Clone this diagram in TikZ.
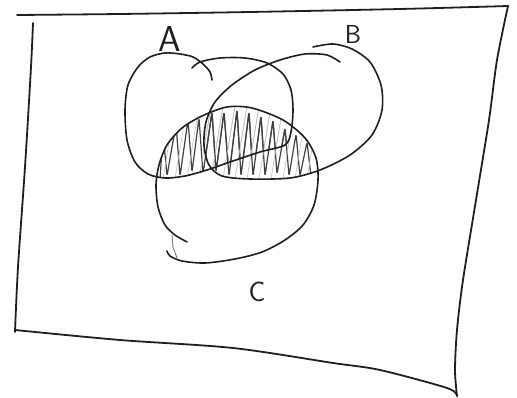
\documentclass[tikz,border=0pt]{standalone}
\usepackage{fontspec}
\begin{document}
\begin{tikzpicture}[x=1pt,y=-1pt,
  pen/.style={line width=1.6pt, draw=black!88, line cap=round, line join=round},
  frame/.style={line width=1.8pt, draw=black!88, line cap=round},
  zig/.style={line width=1.2pt, draw=black!75, line join=round, line cap=round},
  lightline/.style={line width=0.6pt, draw=black!25},
  lbl/.style={font=\sffamily, text=black!88, inner sep=0pt}]
\useasboundingbox (0,0) rectangle (517,398);

% frame
\draw[frame] plot[smooth] coordinates {(17,15) (120,14) (250,12) (400,9) (508,6)};
\draw[frame] plot[smooth] coordinates {(508,6) (497,60) (489,120) (476,200) (463,280) (457,330) (455,370) (457,396)};
\draw[frame] plot[smooth] coordinates {(15,330) (120,340) (233,348) (333,363) (380,370) (447,388) (457,396)};
\draw[frame] plot[smooth] coordinates {(33,23) (31,67) (25,167) (18,267) (15,332)};

% hatching: C and (A or B)
\def\zigzag{\draw[zig, rounded corners=2.5pt] (160,180)
   -- (163,132) -- (167,176) -- (176,124) -- (180,176) -- (188,120) -- (192,172)
   -- (199,118) -- (203,174) -- (212,112) -- (216,172) -- (224,112) -- (229,176)
   -- (237,110) -- (241,176) -- (249,112) -- (253,176) -- (261,116) -- (265,176)
   -- (273,120) -- (277,174) -- (285,128) -- (289,176) -- (296,134) -- (300,176)
   -- (307,142) -- (311,176);
   \foreach \x in {150,162,...,320} \draw[lightline] (\x,185) -- (\x+14,100);}
\begin{scope}
  \clip plot[smooth cycle] coordinates {(158,207) (156,185) (159,165) (167,145) (182,128) (202,116) (227,107) (252,108) (283,120) (305,138) (316,158) (318,180) (314,205) (303,225) (285,240) (262,252) (235,259) (205,263) (180,258) (165,228)};
  \begin{scope}
    \clip plot[smooth cycle] coordinates {(200,62) (220,58) (245,58) (267,63) (283,74) (291,90) (293,110) (291,132) (285,145) (260,152) (230,162) (207,170) (185,176) (165,178) (148,174) (135,162) (127,140) (125,110) (128,85) (138,67) (150,57) (165,53) (180,54)};
    \zigzag
  \end{scope}
  \begin{scope}
    \clip plot[smooth cycle] coordinates {(327,55) (305,54) (280,60) (255,70) (232,85) (215,102) (206,122) (204,145) (209,165) (222,176) (250,179) (290,178) (320,170) (350,155) (372,135) (382,110) (381,85) (370,62) (352,49) (333,46)};
    \zigzag
  \end{scope}
\end{scope}

% A
\draw[pen] plot[smooth] coordinates {(192,68) (200,62) (220,58) (245,58) (267,63) (283,74) (291,90) (293,110) (291,132) (285,145) (260,152) (230,162) (207,170) (185,176) (165,178) (148,174) (135,162) (127,140) (125,110) (128,85) (138,67) (150,57) (165,53) (180,54) (193,57) (203,64) (210,72) (212,80)};
% B
\draw[pen] plot[smooth] coordinates {(340,62) (327,55) (305,54) (280,60) (255,70) (232,85) (215,102) (206,122) (204,145) (209,165) (222,176) (250,179) (290,178) (320,170) (350,155) (372,135) (382,110) (381,85) (370,62) (352,49) (333,44) (313,47)};
% C
\draw[pen] plot[smooth] coordinates {(187,242) (175,235) (165,225) (158,207) (156,185) (159,165) (167,145) (182,128) (202,116) (227,107) (252,108) (283,120) (305,138) (316,158) (318,180) (314,205) (303,225) (285,240) (262,252) (235,259) (205,263) (182,261) (170,256) (167,251)};
\draw[pen, line width=0.9pt, draw=black!55] (172,235) -- (173,247) -- (177,258);

% labels
\node[lbl, font=\sffamily\fontsize{36}{36}\selectfont] (labA) at (170,39) {A};
\node[lbl, font=\sffamily\fontsize{26}{26}\selectfont] (labB) at (353,34) {B};
\node[lbl, font=\sffamily\fontsize{28}{28}\selectfont] (labC) at (257,292) {C};
\end{tikzpicture}
\end{document}
